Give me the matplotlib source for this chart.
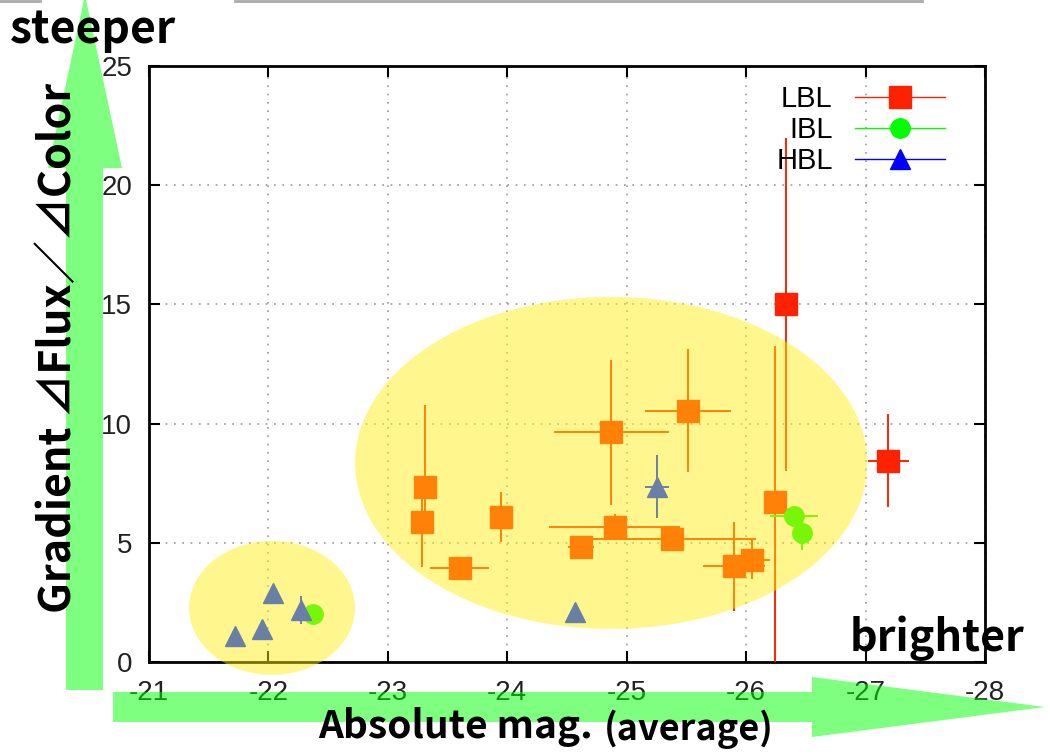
import matplotlib
matplotlib.use("Agg")
import matplotlib.pyplot as plt
from matplotlib.patches import Ellipse, Polygon
from matplotlib.lines import Line2D

W, H = 1048, 755

# ---------------- data ----------------
lbl_x = [-23.31, -23.29, -23.60, -23.95, -24.62, -24.87, -24.90, -25.38, -25.51, -25.90, -26.05, -26.24, -26.33, -27.19]
lbl_y = [7.35, 5.87, 3.94, 6.08, 4.83, 9.65, 5.66, 5.16, 10.53, 4.03, 4.28, 6.71, 15.0, 8.45]
lbl_xerr = [0.0, 0.0, 0.25, 0.0, 0.11, 0.48, 0.55, 0.70, 0.36, 0.26, 0.15, 0.0, 0.0, 0.17]
lbl_yerr_lo = [1.35, 1.87, 0.0, 1.05, 0.0, 3.05, 0.55, 0.0, 2.56, 1.89, 0.80, 7.5, 7.0, 1.95]
lbl_yerr_hi = [3.45, 1.10, 0.0, 1.05, 0.0, 3.00, 0.55, 0.0, 2.60, 1.84, 0.90, 6.54, 7.0, 1.95]

ibl_x = [-22.37, -26.40, -26.47]
ibl_y = [2.0, 6.12, 5.4]
ibl_xerr = [0.0, 0.20, 0.0]
ibl_yerr = [0.0, 0.0, 0.70]

hbl_x = [-21.72, -21.95, -22.04, -22.27, -24.57, -25.25]
hbl_y = [1.1, 1.38, 2.9, 2.18, 2.1, 7.35]
hbl_xerr = [0.0, 0.0, 0.0, 0.0, 0.0, 0.10]
hbl_yerr = [0.0, 0.0, 0.3, 0.6, 0.0, 1.33]

# groups highlighted by ellipses: (center x, center y, width, height)
ell_big = (-24.87, 8.35, 4.29, 13.93)
ell_small = (-22.03, 2.27, 1.39, 5.62)

xticks = [-21, -22, -23, -24, -25, -26, -27, -28]
yticks = [0, 5, 10, 15, 20, 25]
series_names = ["LBL", "IBL", "HBL"]

RED = "#ff2200"
GREEN = "#00ff00"
BLUE = "#0000ff"
HBL_SHADED = "#6880a6"   # blue seen through the yellow highlight
YEL = "#ffee10"
ARROW = "#00ff00"

tickfont = "Liberation Sans"
bigfont = ["Noto Sans CJK JP", "DejaVu Sans"]

fig = plt.figure(figsize=(W / 100, H / 100), dpi=100)
ax = fig.add_axes([149 / W, 1 - 662 / H, (985 - 149) / W, (662 - 66) / H])

ax.set_xlim(-21, -28)
ax.set_ylim(0, 25)
ax.set_xticks(xticks)
ax.set_yticks(yticks)
ax.set_xticklabels([str(t) for t in xticks], fontfamily=tickfont, fontsize=20, color="#222222")
ax.set_yticklabels([str(t) for t in yticks], fontfamily=tickfont, fontsize=20, color="#222222")
ax.tick_params(direction="in", length=8, width=1.5, top=True, right=True, pad=12)
ax.tick_params(axis="x", pad=13)
for s in ax.spines.values():
    s.set_linewidth(2)
ax.grid(True, linestyle=(0, (1, 4)), color="#999999", linewidth=1.2)

ax.errorbar(lbl_x, lbl_y, xerr=lbl_xerr, yerr=[lbl_yerr_lo, lbl_yerr_hi], fmt="s",
            color=RED, ms=15.5, elinewidth=1.4, capsize=0, zorder=3)
ax.errorbar(ibl_x, ibl_y, xerr=ibl_xerr, yerr=ibl_yerr, fmt="o",
            color=GREEN, ms=14, elinewidth=1.4, capsize=0, zorder=3)

for (cx, cy, w, h) in (ell_big, ell_small):
    e = Ellipse((cx, cy), w, h, facecolor=YEL, edgecolor="none", alpha=0.47,
                zorder=4, clip_on=False)
    ax.add_patch(e)

ax.errorbar(hbl_x, hbl_y, xerr=hbl_xerr, yerr=hbl_yerr, fmt="^",
            color=HBL_SHADED, ms=15, elinewidth=1.4, capsize=0, zorder=4.5)

handles = [
    Line2D([], [], color=RED, marker="s", ms=15.5, lw=1),
    Line2D([], [], color=GREEN, marker="o", ms=14, lw=1),
    Line2D([], [], color=BLUE, marker="^", ms=15, lw=1),
]
leg = fig.legend(handles, series_names, loc="upper right",
                 bbox_to_anchor=(945 / W, 1 - 85 / H), frameon=False, markerfirst=False,
                 prop={"family": tickfont, "size": 21}, handlelength=3.1,
                 handletextpad=0.75, labelspacing=0.1, borderpad=0, borderaxespad=0)


def px(x, y):
    return (x / W, 1 - y / H)


# green arrows
v_arrow = [px(66, 690), px(103, 690), px(103, 168), px(122, 168), px(85, -5),
           px(48, 168), px(66, 168)]
h_arrow = [px(113, 692), px(812, 692), px(812, 677), px(1045, 707), px(812, 737),
           px(812, 722), px(113, 722)]
for pts in (v_arrow, h_arrow):
    fig.add_artist(Polygon(pts, closed=True, transform=fig.transFigure,
                           facecolor=ARROW, edgecolor="none", alpha=0.5, zorder=5))

# stray slide border lines on top
for (x0, x1) in ((0, 40), (235, 922)):
    fig.add_artist(Line2D([x0 / W, x1 / W], [1 - 1 / H, 1 - 1 / H], transform=fig.transFigure,
                          color="#aaaaaa", lw=2, zorder=5))

fig.text(*px(10, 30), "steeper", fontfamily=bigfont, fontsize=32, fontweight="bold",
         ha="left", va="center", zorder=6)
fig.text(*px(1024, 638), "brighter", fontfamily=bigfont, fontsize=31, fontweight="bold",
         ha="right", va="center", zorder=6)
fig.text(*px(58, 348), "Gradient ⊿Flux／⊿Color", fontfamily=bigfont, fontsize=31,
         fontweight="bold", rotation=90, ha="center", va="center", zorder=6)
fig.text(*px(318, 727), "Absolute mag.", fontfamily=bigfont, fontsize=28, fontweight="bold",
         ha="left", va="center", zorder=6)
fig.text(*px(604, 729), "(average)", fontfamily=bigfont, fontsize=26, fontweight="bold",
         ha="left", va="center", zorder=6)

fig.savefig("out.png", dpi=100)
